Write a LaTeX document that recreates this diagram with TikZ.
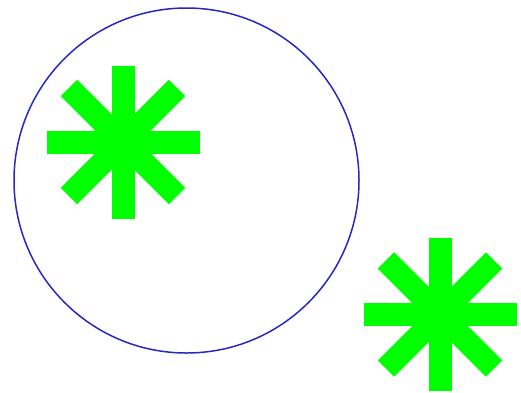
\documentclass[tikz,border=0pt]{standalone}
\usepackage{tikz}
\usetikzlibrary{positioning}
\usepackage{xcolor}
\definecolor{ringblue}{RGB}{40,40,190}
\definecolor{stargreen}{RGB}{0,255,0}

\begin{document}
\begin{tikzpicture}[
        x=1pt, y=-1pt,
        ring/.style={draw=ringblue, line width=1.5pt},
        spoke/.style={draw=stargreen, line width=23pt},
    ]
        \useasboundingbox (0,0) rectangle (521,392);

        \draw[ring] (186.5,180.5) circle[radius=172.5];

        \coordinate (starA) at (123,142);
        \coordinate (starB) at (440,314.5);

        \foreach \c in {starA, starB}
            \foreach \a in {0,45,90,135}
                \draw[spoke, shift={(\c)}] (\a:76.5) -- (\a+180:76.5);
    \end{tikzpicture}
\end{document}
